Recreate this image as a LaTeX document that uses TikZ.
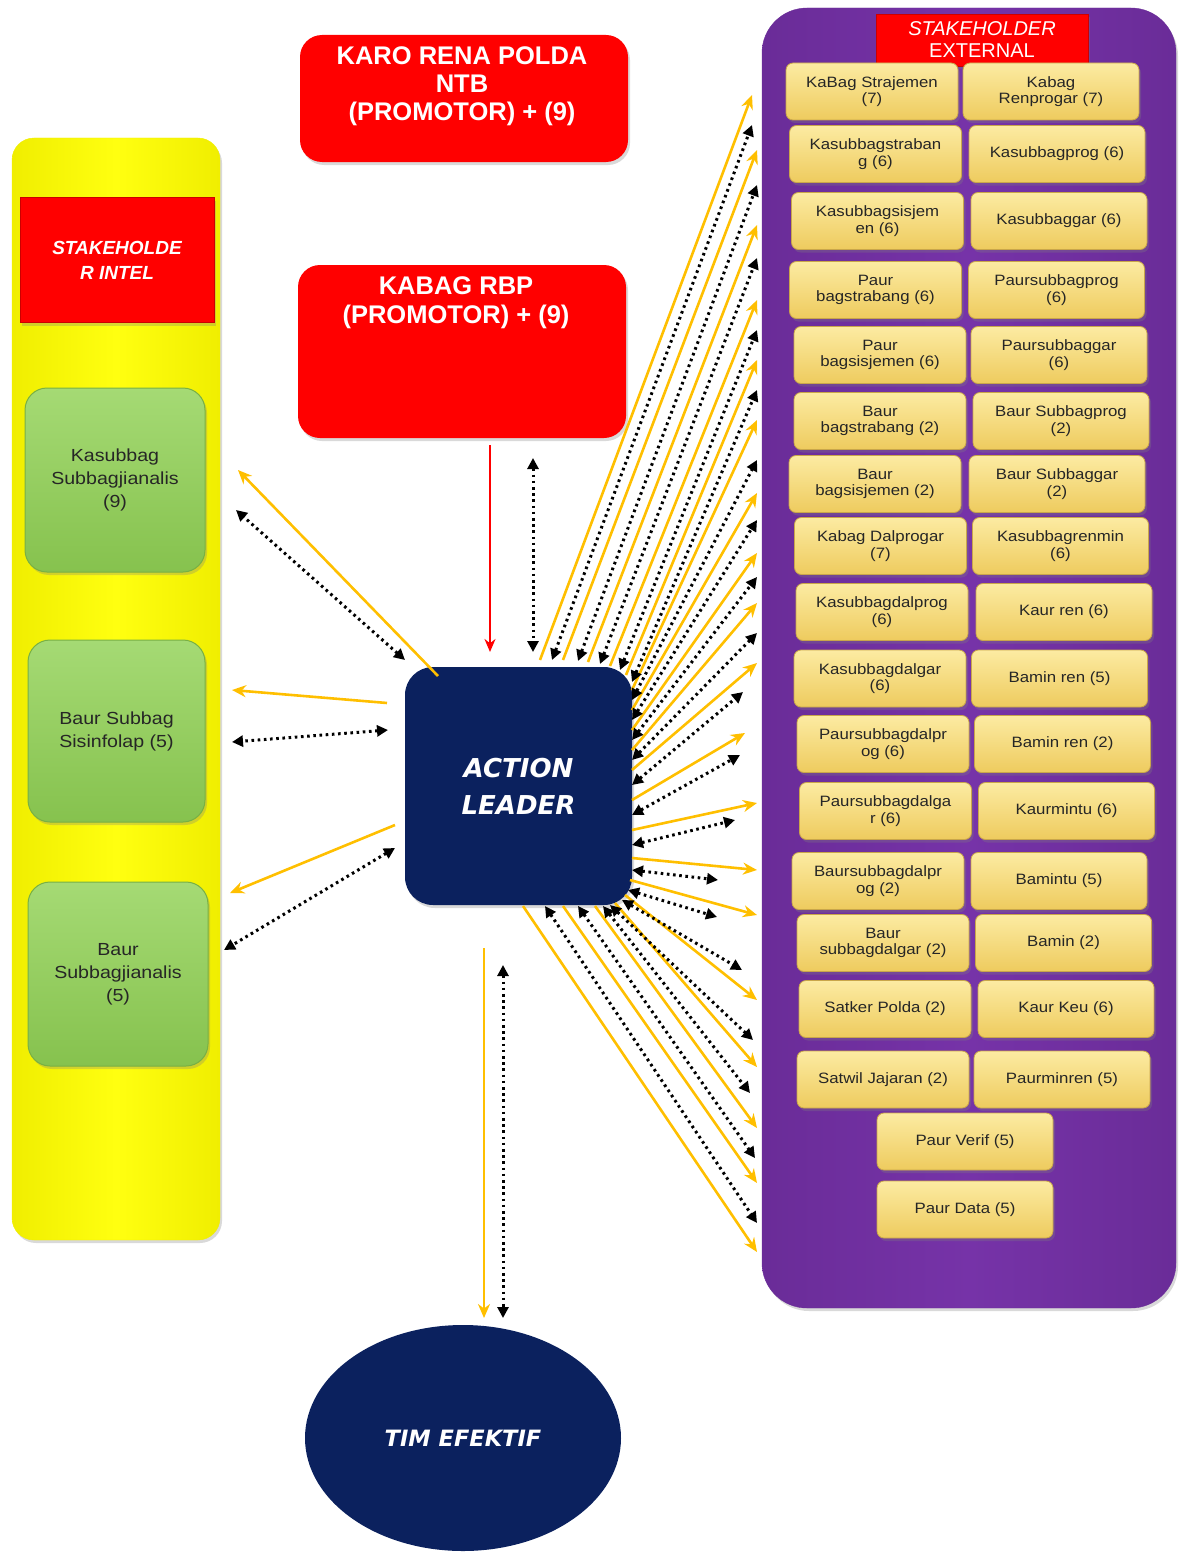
\documentclass[tikz,border=0pt]{standalone}
\usepackage{fontspec}
\setmainfont{Liberation Sans}
\newfontfamily\widesans[FakeStretch=1.12]{Liberation Sans}
\newfontfamily\dejavu{DejaVu Sans}
\usetikzlibrary{arrows.meta,shadows,shapes.geometric}
\definecolor{ylwM}{HTML}{FFFF10}
\definecolor{ylwD}{HTML}{F0EE00}
\definecolor{grnT}{HTML}{A5DA74}
\definecolor{grnB}{HTML}{86C24E}
\definecolor{grnE}{HTML}{78B044}
\definecolor{purM}{HTML}{7633A8}
\definecolor{purD}{HTML}{6A2C98}
\definecolor{redM}{HTML}{FF0000}
\definecolor{navy}{HTML}{0B215E}
\definecolor{goldT}{HTML}{FCEBA2}
\definecolor{goldB}{HTML}{EECB5E}
\definecolor{goldE}{HTML}{C9A64A}
\definecolor{orng}{HTML}{FFBF00}
\begin{document}
\begin{tikzpicture}[x=1pt,y=-1pt,
  shd/.style={drop shadow={shadow xshift=2pt,shadow yshift=-3pt,opacity=.3}},
  column/.style={rectangle,rounded corners=22pt,draw=ylwD,left color=ylwD,right color=ylwD,middle color=ylwM,shd},
  purplecol/.style={rectangle,rounded corners=45pt,draw=purD,left color=purD,right color=purD,middle color=purM,shd},
  redbox/.style={rectangle,rounded corners=22pt,fill=redM,shd},
  redhead/.style={rectangle,fill=redM,draw=red!80!black,line width=0.6pt,shd},
  greenbox/.style={rectangle,rounded corners=22pt,draw=grnE,line width=1pt,top color=grnT,bottom color=grnB,shd,
     align=center,text=black!85,font=\widesans\fontsize{17.5}{23}\selectfont},
  ybox/.style={rectangle,rounded corners=7pt,draw=goldE,line width=0.8pt,top color=goldT,bottom color=goldB,
     minimum height=57pt,align=center,text=black!85,inner sep=1pt,shd,font=\widesans\fontsize{15}{16.5}\selectfont},
  yl/.style={ybox,minimum width=172pt},
  yr/.style={ybox,minimum width=176pt},
  whitetxt/.style={text=white,align=center},
  oarr/.style={draw=orng,line width=2.6pt,-{Stealth[length=14pt,width=12pt]}},
  darr/.style={draw=black,line width=3pt,dash pattern=on 2.6pt off 3.6pt,
     {Triangle[length=11pt,width=11pt]}-{Triangle[length=11pt,width=11pt]}},
  rarr/.style={draw=red,line width=2.6pt,-{Stealth[length=13pt,width=11pt]}}
]
\useasboundingbox (0,0) rectangle (1178,1552);

% ---------- left column ----------
\node[column,minimum width=208pt,minimum height=1102pt] (ycol) at (116,689) {};
\node[redhead,minimum width=194pt,minimum height=125pt,whitetxt,
      font=\fontsize{19}{25}\selectfont\bfseries\itshape] (intel) at (117,260) {STAKEHOLDE\\R INTEL};
\node[greenbox,minimum width=180pt,minimum height=184pt] (g1) at (115,480) {Kasubbag\\Subbagjianalis\\(9)};
\node[greenbox,minimum width=177pt,minimum height=182pt] (g2) at (116.5,731) {Baur Subbag\\Sisinfolap (5)};
\node[greenbox,minimum width=180pt,minimum height=184pt] (g3) at (118,974) {Baur\\Subbagjianalis\\(5)};

% ---------- top red boxes ----------
\node[redbox,minimum width=328pt,minimum height=127pt] (r1) at (464,98.5) {};
\node[whitetxt,font=\fontsize{25.5}{28}\selectfont\bfseries] (r1t) at (462,86) {KARO RENA POLDA\\NTB\\(PROMOTOR) + (9)};
\node[redbox,minimum width=328pt,minimum height=173pt] (r2) at (462,351.5) {};
\node[whitetxt,font=\fontsize{25.5}{29}\selectfont\bfseries] (r2t) at (456,303) {KABAG RBP\\(PROMOTOR) + (9)};

% ---------- right column ----------
\node[purplecol,minimum width=414pt,minimum height=1300pt] (pcol) at (969,658) {};
\node[redhead,minimum width=212pt,minimum height=52pt,whitetxt,inner sep=0pt,
      font=\fontsize{20}{23}\selectfont] (ext) at (982,40) {\textit{STAKEHOLDER}\\[-1pt]EXTERNAL};

\node[yl] (e1l) at (872,91.5) {KaBag Strajemen\\(7)};
\node[yr] (e1r) at (1051,91.5) {Kabag\\Renprogar (7)};
\node[yl] (e2l) at (875.5,154) {Kasubbagstraban\\g (6)};
\node[yr] (e2r) at (1057,154) {Kasubbagprog (6)};
\node[yl] (e3l) at (877.5,221) {Kasubbagsisjem\\en (6)};
\node[yr] (e3r) at (1059,221) {Kasubbaggar (6)};
\node[yl] (e4l) at (875.5,290) {Paur\\bagstrabang (6)};
\node[yr] (e4r) at (1056.5,290) {Paursubbagprog\\(6)};
\node[yl] (e5l) at (880,355) {Paur\\bagsisjemen (6)};
\node[yr] (e5r) at (1059,355) {Paursubbaggar\\(6)};
\node[yl] (e6l) at (880,421) {Baur\\bagstrabang (2)};
\node[yr] (e6r) at (1061,421) {Baur Subbagprog\\(2)};
\node[yl] (e7l) at (875,484) {Baur\\bagsisjemen (2)};
\node[yr] (e7r) at (1057,484) {Baur Subbaggar\\(2)};
\node[yl] (e8l) at (880.5,546) {Kabag Dalprogar\\(7)};
\node[yr] (e8r) at (1060.5,546) {Kasubbagrenmin\\(6)};
\node[yl] (e9l) at (882,612) {Kasubbagdalprog\\(6)};
\node[yr] (e9r) at (1064,612) {Kaur ren (6)};
\node[yl] (e10l) at (880,678.5) {Kasubbagdalgar\\(6)};
\node[yr] (e10r) at (1059.5,678.5) {Bamin ren (5)};
\node[yl] (e11l) at (883,744) {Paursubbagdalpr\\og (6)};
\node[yr] (e11r) at (1062.5,744) {Bamin ren (2)};
\node[yl] (e12l) at (885.5,811) {Paursubbagdalga\\r (6)};
\node[yr] (e12r) at (1066.5,811) {Kaurmintu (6)};
\node[yl] (e13l) at (878,881) {Baursubbagdalpr\\og (2)};
\node[yr] (e13r) at (1059,881) {Bamintu (5)};
\node[yl] (e14l) at (883,943) {Baur\\subbagdalgar (2)};
\node[yr] (e14r) at (1063.5,943) {Bamin (2)};
\node[yl] (e15l) at (885,1009) {Satker Polda (2)};
\node[yr] (e15r) at (1066,1009) {Kaur Keu (6)};
\node[yl] (e16l) at (883,1079.5) {Satwil Jajaran (2)};
\node[yr] (e16r) at (1062,1079.5) {Paurminren (5)};
\node[yr] (e17) at (965,1141.5) {Paur Verif (5)};
\node[yr] (e18) at (965,1209.5) {Paur Data (5)};

% ---------- centre ----------
\node[rectangle,rounded corners=28pt,fill=navy,minimum width=227pt,minimum height=238pt,shd,
      whitetxt,font=\dejavu\fontsize{26}{37}\selectfont\bfseries\itshape] (al) at (518.5,786) {ACTION\\LEADER};
\node[ellipse,fill=navy,minimum width=316pt,minimum height=226pt,inner sep=0pt,
      whitetxt,font=\dejavu\fontsize{22.5}{28}\selectfont\bfseries\itshape] (tim) at (463,1438) {TIM EFEKTIF};

% ---------- connectors to the left ----------
\coordinate (la1) at (438,676); \coordinate (lb1) at (238,470);
\coordinate (la2) at (405,660); \coordinate (lb2) at (236,510);
\coordinate (la3) at (387,703); \coordinate (lb3) at (232,690);
\coordinate (la4) at (388,730); \coordinate (lb4) at (232,742);
\coordinate (la5) at (395,825); \coordinate (lb5) at (230,893);
\coordinate (la6) at (395,848); \coordinate (lb6) at (224,950);
\draw[oarr] (la1) -- (lb1);
\draw[darr] (la2) -- (lb2);
\draw[oarr] (la3) -- (lb3);
\draw[darr] (la4) -- (lb4);
\draw[oarr] (la5) -- (lb5);
\draw[darr] (la6) -- (lb6);

% ---------- vertical connectors ----------
\coordinate (va1) at (490,445); \coordinate (vb1) at (490,652);
\coordinate (va2) at (533,458); \coordinate (vb2) at (533,652);
\coordinate (va3) at (484,948); \coordinate (vb3) at (484,1318);
\coordinate (va4) at (503,965); \coordinate (vb4) at (503,1318);
\draw[rarr] (va1) -- (vb1);
\draw[darr] (va2) -- (vb2);
\draw[oarr] (va3) -- (vb3);
\draw[darr] (va4) -- (vb4);

% ---------- fan to the right ----------
\foreach \sx/\sy/\ex/\ey [count=\i] in {
  540/660/752/95, 563/660/757/150, 588/662/757/225, 610/666/757/300, 626/675/757/360,
  632/690/757/420, 632/710/757/493, 632/730/757/553, 632/750/757/603, 632/770/757/663,
  632/800/745/733, 632/830/757/803, 632/858/757/870, 630/880/757/915, 625/895/757/1000,
  615/903/757/1067, 595/906/757/1128, 563/906/757/1183, 523/906/757/1252}{
  \coordinate (os\i) at (\sx,\sy);
  \coordinate (oe\i) at (\ex,\ey);
  \draw[oarr] (os\i) -- (oe\i);
}
\foreach \sx/\sy/\ex/\ey [count=\i] in {
  552/660/752/125, 578/661/757/185, 600/664/757/258, 620/670/757/330, 632/682/757/390,
  632/700/757/460, 632/720/757/520, 632/740/757/577, 632/760/757/633, 632/785/743/692,
  632/815/740/755, 632/845/735/820, 632/870/718/880, 628/890/717/917, 622/900/742/970,
  610/905/753/1040, 603/906/750/1093, 578/906/755/1158, 545/906/757/1223}{
  \coordinate (ds\i) at (\sx,\sy);
  \coordinate (de\i) at (\ex,\ey);
  \draw[darr] (ds\i) -- (de\i);
}
\end{tikzpicture}
\end{document}
